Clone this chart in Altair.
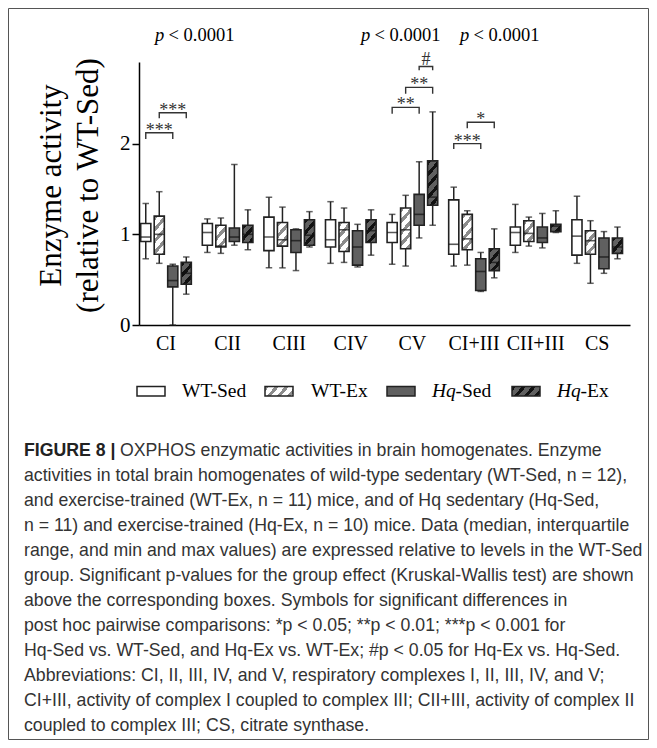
import math
import altair as alt
import pandas as pd

# ---------------- data ----------------
complexes = ["CI", "CII", "CIII", "CIV", "CV", "CI+III", "CII+III", "CS"]
groups = ["WT-Sed", "WT-Ex", "Hq-Sed", "Hq-Ex"]

# rows = complexes, columns = groups (WT-Sed, WT-Ex, Hq-Sed, Hq-Ex)
v_min = [
    [0.73, 0.68, 0.00, 0.34],
    [0.80, 0.79, 0.88, 0.83],
    [0.63, 0.63, 0.60, 0.86],
    [0.68, 0.69, 0.64, 0.77],
    [0.67, 0.65, 0.96, 1.10],
    [0.65, 0.66, 0.37, 0.52],
    [0.80, 0.87, 0.85, 1.02],
    [0.68, 0.46, 0.57, 0.73],
]
v_q1 = [
    [0.92, 0.78, 0.42, 0.45],
    [0.88, 0.86, 0.92, 0.91],
    [0.82, 0.87, 0.80, 0.88],
    [0.86, 0.81, 0.66, 0.91],
    [0.91, 0.84, 1.10, 1.32],
    [0.78, 0.83, 0.38, 0.60],
    [0.88, 0.92, 0.91, 1.03],
    [0.77, 0.78, 0.62, 0.79],
]
v_med = [
    [0.97, 1.00, 0.49, 0.57],
    [1.02, 0.87, 0.97, 1.00],
    [0.97, 0.94, 0.93, 0.99],
    [0.94, 1.05, 0.86, 1.04],
    [1.02, 1.05, 1.22, 1.41],
    [0.89, 0.95, 0.59, 0.69],
    [1.02, 1.01, 0.96, 1.09],
    [0.98, 0.93, 0.75, 0.86],
]
v_q3 = [
    [1.12, 1.20, 0.65, 0.69],
    [1.12, 1.10, 1.07, 1.10],
    [1.19, 1.13, 1.05, 1.16],
    [1.16, 1.13, 1.04, 1.16],
    [1.13, 1.29, 1.44, 1.81],
    [1.38, 1.22, 0.73, 0.84],
    [1.08, 1.15, 1.08, 1.11],
    [1.16, 1.04, 0.96, 0.96],
]
v_max = [
    [1.34, 1.47, 0.67, 0.75],
    [1.17, 1.18, 1.77, 1.27],
    [1.41, 1.30, 1.06, 1.25],
    [1.36, 1.29, 1.11, 1.27],
    [1.22, 1.43, 1.80, 2.35],
    [1.52, 1.26, 0.80, 1.06],
    [1.33, 1.19, 1.23, 1.26],
    [1.42, 1.15, 1.03, 1.08],
]

# significance brackets
br_complex = ["CI", "CI", "CV", "CV", "CV", "CI+III", "CI+III"]
br_from = ["WT-Sed", "WT-Ex", "WT-Sed", "WT-Ex", "Hq-Sed", "WT-Sed", "WT-Ex"]
br_to = ["Hq-Sed", "Hq-Ex", "Hq-Sed", "Hq-Ex", "Hq-Ex", "Hq-Sed", "Hq-Ex"]
br_top = [2.12, 2.34, 2.40, 2.62, 2.85, 2.00, 2.235]
br_end = [2.05, 2.28, 2.33, 2.55, 2.81, 1.94, 2.17]
br_label = ["***", "***", "**", "**", "#", "***", "*"]

# Kruskal-Wallis p-values
p_complex = ["CI", "CV", "CI+III"]
p_value_text = "< 0.0001"
p_level = 3.135

legend_labels = ["WT-Sed", "WT-Ex", "Hq-Sed", "Hq-Ex"]

caption_head = "FIGURE 8 |"
caption_first = "OXPHOS enzymatic activities in brain homogenates. Enzyme"
caption_lines = [
    "activities in total brain homogenates of wild-type sedentary (WT-Sed, n = 12),",
    "and exercise-trained (WT-Ex, n = 11) mice, and of Hq sedentary (Hq-Sed,",
    "n = 11) and exercise-trained (Hq-Ex, n = 10) mice. Data (median, interquartile",
    "range, and min and max values) are expressed relative to levels in the WT-Sed",
    "group. Significant p-values for the group effect (Kruskal-Wallis test) are shown",
    "above the corresponding boxes. Symbols for significant differences in",
    "post hoc pairwise comparisons: *p < 0.05; **p < 0.01; ***p < 0.001 for",
    "Hq-Sed vs. WT-Sed, and Hq-Ex vs. WT-Ex; #p < 0.05 for Hq-Ex vs. Hq-Sed.",
    "Abbreviations: CI, II, III, IV, and V, respiratory complexes I, II, III, IV, and V;",
    "CI+III, activity of complex I coupled to complex III; CII+III, activity of complex II",
    "coupled to complex III; CS, citrate synthase.",
]

# ---------------- tables ----------------
rows = []
for i, c in enumerate(complexes):
    for j, g in enumerate(groups):
        rows.append(dict(complex=c, group=g, min=v_min[i][j], q1=v_q1[i][j],
                         med=v_med[i][j], q3=v_q3[i][j], max=v_max[i][j]))
df = pd.DataFrame(rows)

br_rows = []
for b in range(len(br_complex)):
    for s, (g, yv) in enumerate([(br_from[b], br_end[b]), (br_from[b], br_top[b]),
                                 (br_to[b], br_top[b]), (br_to[b], br_end[b])]):
        br_rows.append(dict(bid=b, seq=s, complex=br_complex[b], group=g, y=yv))
br_df = pd.DataFrame(br_rows)

# ---------------- layout / style ----------------
W, H, Y_MAX = 491, 263, 2.9
PPU = H / Y_MAX
PI, PO, ALIGN = 0.178, 0.0745, 0.185
PI2 = 0.25
STEP = W / (len(complexes) - PI + 2 * PO)
BAND = STEP * (1 - PI)
SUB = BAND / (len(groups) - PI2)
BW = SUB * (1 - PI2)

SERIF = "Liberation Serif"
SANS = "Liberation Sans"
STROKE = "#222222"
DARK = "#606060"
LIGHT_HATCH = "#8c8c8c"


def hatch(w, h, bg, fg, frac=0.42, pv=11.5, a=1.15):
    k = (a * w + h) / (a * a * w * w + h * h)
    n = (a * w + h) / pv
    stops = []
    i = 0
    while i < n:
        o0 = i / n
        o1 = min((i + frac) / n, 1.0)
        o2 = min((i + 1) / n, 1.0)
        stops += [(o0, fg), (o1, fg), (o1, bg), (o2, bg)]
        i += 1
    return alt.LinearGradient(
        gradient="linear", x1=0, y1=0, x2=k * a * w, y2=k * h,
        stops=[alt.GradientStop(offset=o, color=c) for o, c in stops])


hatch_style = {"WT-Ex": ("white", LIGHT_HATCH), "Hq-Ex": (DARK, "#111111")}

xs = alt.Scale(domain=complexes, paddingInner=PI, paddingOuter=PO, align=ALIGN)
xos = alt.Scale(domain=groups, paddingInner=PI2, paddingOuter=0)
ys = alt.Scale(domain=[0, Y_MAX], nice=False, zero=True)

xaxis = alt.Axis(title=None, labelAngle=0, ticks=False, tickSize=0, labelFont=SERIF,
                 labelFontSize=20, labelColor="black", labelPadding=8,
                 domainColor="black", domainWidth=1.5, grid=False)
yaxis = alt.Axis(values=[0, 1, 2], format="d", grid=False, tickSize=7, tickWidth=1.5,
                 tickColor="black", domainColor="black", domainWidth=1.5,
                 labelFont=SERIF, labelFontSize=21, labelColor="black", labelPadding=2,
                 title=["Enzyme activity", "(relative to WT-Sed)"], titleFont=SERIF,
                 titleFontSize=31, titleFontWeight="normal", titleColor="black",
                 titleAngle=270, titleAlign="center", titleBaseline="alphabetic",
                 titleLineHeight=37, titleX=-79, titleY=123)

X = alt.X("complex:N", scale=xs, axis=xaxis)
XO = alt.XOffset("group:N", scale=xos)


def Y(f):
    return alt.Y(f"{f}:Q", scale=ys, axis=yaxis)


base = alt.Chart(df)
layers = []

# whiskers + caps
layers.append(base.mark_rule(color=STROKE, strokeWidth=1.5).encode(x=X, xOffset=XO, y=Y("min"), y2="max"))
layers.append(base.mark_tick(color=STROKE, size=6.5, thickness=1.5).encode(x=X, xOffset=XO, y=Y("min")))
layers.append(base.mark_tick(color=STROKE, size=6.5, thickness=1.5).encode(x=X, xOffset=XO, y=Y("max")))

# plain boxes
layers.append(
    base.transform_filter(alt.FieldOneOfPredicate(field="group", oneOf=["WT-Sed", "Hq-Sed"]))
    .mark_bar(stroke=STROKE, strokeWidth=1.6)
    .encode(x=X, xOffset=XO, y=Y("q1"), y2="q3",
            fill=alt.Fill("group:N", scale=alt.Scale(domain=["WT-Sed", "Hq-Sed"], range=["white", DARK]), legend=None))
)

# hatched boxes
for i, c in enumerate(complexes):
    for j, g in enumerate(groups):
        if g not in hatch_style:
            continue
        bg, fg = hatch_style[g]
        h = (v_q3[i][j] - v_q1[i][j]) * PPU
        layers.append(
            base.transform_filter((alt.datum.complex == c) & (alt.datum.group == g))
            .mark_bar(fill=hatch(BW, h, bg, fg), stroke=STROKE, strokeWidth=1.6)
            .encode(x=X, xOffset=XO, y=Y("q1"), y2="q3")
        )

# medians
layers.append(base.mark_tick(color="#111111", size=BW, thickness=1.6).encode(x=X, xOffset=XO, y=Y("med")))

# brackets
layers.append(
    alt.Chart(br_df).mark_line(color="#333333", strokeWidth=1.4)
    .encode(x=X, xOffset=XO, y=Y("y"), detail="bid:N", order="seq:Q")
)
for b in range(len(br_complex)):
    jf, jt = groups.index(br_from[b]), groups.index(br_to[b])
    mid = (jf + jt) / 2
    jm = int(math.floor(mid))
    lab_df = pd.DataFrame([dict(complex=br_complex[b], group=groups[jm], y=br_top[b], t=br_label[b])])
    is_hash = br_label[b] == "#"
    layers.append(
        alt.Chart(lab_df).mark_text(font=SERIF, fontSize=18, color="#333333", align="center",
                                     baseline="alphabetic", dx=(mid - jm) * SUB,
                                     dy=-2 if is_hash else 3)
        .encode(x=X, xOffset=XO, y=Y("y"), text="t:N")
    )

# p-values
p_dx = [-11, -51.4, -14]
for c, dx in zip(p_complex, p_dx):
    pdf = pd.DataFrame([dict(complex=c, y=p_level, t=p_value_text)])
    layers.append(alt.Chart(pdf).mark_text(text="p", font=SERIF, fontSize=18.5, fontStyle="italic",
                                           align="left", baseline="alphabetic", dx=dx, color="black")
                  .encode(x=X, y=Y("y")))
    layers.append(alt.Chart(pdf).mark_text(font=SERIF, fontSize=18.5, align="left",
                                           baseline="alphabetic", dx=dx + 13.5, color="black")
                  .encode(x=X, y=Y("y"), text="t:N"))

# ---------------- legend (layout in pixels) ----------------
one = alt.Data(values=[{}])
leg_x = [-2, 126, 248, 373]
leg_fill = ["white", hatch(28, 9.5, "white", LIGHT_HATCH), DARK, hatch(28, 9.5, DARK, "#111111")]
for lx, lf in zip(leg_x, leg_fill):
    layers.append(alt.Chart(one).mark_rect(fill=lf, stroke=STROKE, strokeWidth=1.5)
                  .encode(x=alt.value(lx), x2=alt.value(lx + 28), y=alt.value(324.5), y2=alt.value(334)))
LEG_Y = 334.7
txt = dict(font=SERIF, fontSize=19.5, align="left", baseline="alphabetic", color="black")
layers.append(alt.Chart(one).mark_text(text=legend_labels[0], **txt).encode(x=alt.value(43), y=alt.value(LEG_Y)))
layers.append(alt.Chart(one).mark_text(text=legend_labels[1], **txt).encode(x=alt.value(172), y=alt.value(LEG_Y)))
for lab, lx in [(legend_labels[2], 293), (legend_labels[3], 418)]:
    head, tail = lab[:2], lab[2:]
    layers.append(alt.Chart(one).mark_text(text=head, fontStyle="italic", **txt).encode(x=alt.value(lx), y=alt.value(LEG_Y)))
    layers.append(alt.Chart(one).mark_text(text=tail, **txt).encode(x=alt.value(lx + 23.5), y=alt.value(LEG_Y)))

# ---------------- caption ----------------
CAP_X = -115
CAP_Y = 394
CAP_FS = 17.7
layers.append(alt.Chart(one).mark_text(text=caption_head, font=SANS, fontSize=CAP_FS, fontWeight="bold",
                                       align="left", baseline="alphabetic", color="#222222")
              .encode(x=alt.value(CAP_X), y=alt.value(CAP_Y)))
layers.append(alt.Chart(one).mark_text(text=caption_first, font=SANS, fontSize=CAP_FS,
                                       align="left", baseline="alphabetic", color="#333333")
              .encode(x=alt.value(CAP_X + 96), y=alt.value(CAP_Y)))
layers.append(alt.Chart(one).mark_text(text=caption_lines, font=SANS, fontSize=CAP_FS, lineHeight=25,
                                       align="left", baseline="alphabetic", color="#333333")
              .encode(x=alt.value(CAP_X), y=alt.value(CAP_Y + 25)))

# ---------------- border ----------------
layers.insert(0, alt.Chart(one).mark_rect(fillOpacity=0, stroke="#555555", strokeWidth=1)
              .encode(x=alt.value(-130.5), x2=alt.value(509.5), y=alt.value(-53.5), y2=alt.value(677.5)))

chart = (
    alt.layer(*layers)
    .properties(width=W, height=H, padding=0)
    .configure_view(strokeWidth=0)
)

chart.save("out.html", embed_options={"renderer": "svg", "actions": False})
